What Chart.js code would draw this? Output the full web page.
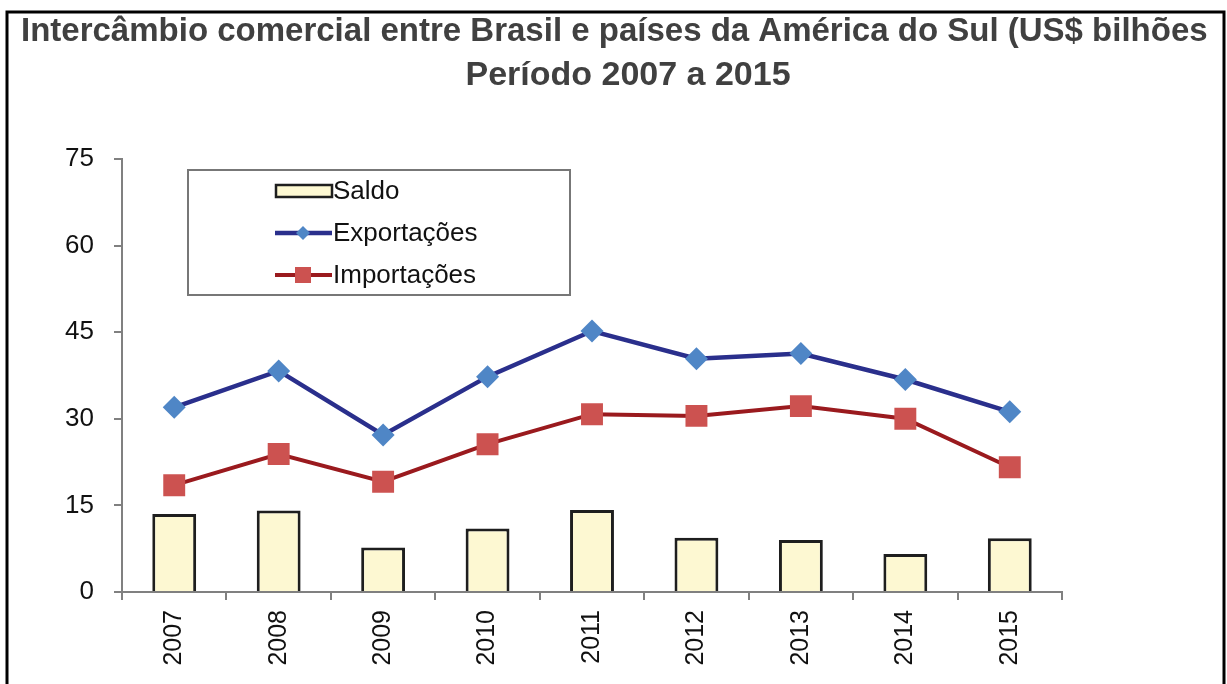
<!DOCTYPE html>
<html>
<head>
<meta charset="utf-8">
<script src="https://cdn.jsdelivr.net/npm/chart.js@4/dist/chart.umd.min.js"></script>
<style>
html,body{margin:0;padding:0;background:#fff;}
canvas{display:block;}
</style>
</head>
<body>
<canvas id="c" width="1227" height="684"></canvas>
<script>
const categories = ['2007', '2008', '2009', '2010', '2011', '2012', '2013', '2014', '2015'];
const saldo = [13.5, 14.1, 7.7, 11.0, 14.2, 9.4, 9.0, 6.6, 9.3];
const exportacoes = [32.0, 38.3, 27.2, 37.3, 45.2, 40.4, 41.3, 36.8, 31.2];
const importacoes = [18.5, 23.9, 19.1, 25.6, 30.8, 30.5, 32.2, 30.0, 21.6];
const yTicks = [0, 15, 30, 45, 60, 75];
const seriesNames = ['Saldo', 'Exportações', 'Importações'];
const titleLines = ['Intercâmbio comercial entre Brasil e países da América do Sul (US$ bilhões', 'Período 2007 a 2015'];

const FONT = "'Liberation Sans', Arial, sans-serif";

const framePlugin = {
  id: 'frameTitle',
  beforeDraw(chart) {
    const ctx = chart.ctx;
    ctx.save();
    ctx.fillStyle = '#fff';
    ctx.fillRect(0, 0, chart.width, chart.height);
    ctx.restore();
  },
  afterDraw(chart) {
    const ctx = chart.ctx;
    ctx.save();
    ctx.fillStyle = '#404040';
    ctx.textBaseline = 'alphabetic';
    ctx.font = "bold 33px " + FONT;
    ctx.textAlign = 'left';
    ctx.fillText(titleLines[0], 21, 41);
    ctx.font = "bold 34px " + FONT;
    ctx.textAlign = 'center';
    ctx.fillText(titleLines[1], 628, 85);
    ctx.strokeStyle = '#000';
    ctx.lineWidth = 3;
    ctx.strokeRect(7, 12, 1217, 700);
    ctx.restore();
  }
};

const legendPlugin = {
  id: 'boxLegend',
  afterDatasetsDraw(chart) {
    const ctx = chart.ctx;
    ctx.save();
    ctx.fillStyle = '#fff';
    ctx.fillRect(188, 170, 382, 125);
    ctx.strokeStyle = '#777';
    ctx.lineWidth = 2;
    ctx.strokeRect(188, 170, 382, 125);
    const rows = [191, 233, 275];
    chart.data.datasets.forEach((ds, i) => {
      const y = rows[i];
      if (ds.type === 'bar') {
        ctx.fillStyle = ds.backgroundColor;
        ctx.fillRect(276, y - 6, 56, 12);
        ctx.strokeStyle = ds.borderColor;
        ctx.lineWidth = 2.5;
        ctx.strokeRect(276, y - 6, 56, 12);
      } else {
        ctx.strokeStyle = ds.borderColor;
        ctx.lineWidth = ds.borderWidth;
        ctx.beginPath();
        ctx.moveTo(275, y);
        ctx.lineTo(332, y);
        ctx.stroke();
        ctx.fillStyle = ds.pointBackgroundColor;
        ctx.beginPath();
        if (ds.pointStyle === 'rectRot') {
          ctx.moveTo(303, y - 7); ctx.lineTo(310, y); ctx.lineTo(303, y + 7); ctx.lineTo(296, y);
        } else {
          ctx.rect(295, y - 8, 16, 16);
        }
        ctx.closePath();
        ctx.fill();
      }
      ctx.fillStyle = '#111';
      ctx.font = "26px " + FONT;
      ctx.textAlign = 'left';
      ctx.textBaseline = 'middle';
      ctx.fillText(ds.label, 333, y + 1);
    });
    ctx.restore();
  }
};

new Chart(document.getElementById('c'), {
  type: 'bar',
  data: {
    labels: categories,
    datasets: [
      {
        type: 'bar',
        label: seriesNames[0],
        data: saldo,
        backgroundColor: '#FDF8D2',
        borderColor: '#1e1e1e',
        borderWidth: 3,
        barPercentage: 0.42,
        categoryPercentage: 1,
        order: 3
      },
      {
        type: 'line',
        label: seriesNames[1],
        data: exportacoes,
        borderColor: '#2A2F8C',
        borderWidth: 4.5,
        tension: 0,
        pointStyle: 'rectRot',
        pointRadius: 11.5,
        pointHoverRadius: 11.5,
        pointBackgroundColor: '#4F86C6',
        pointBorderColor: '#4F86C6',
        pointBorderWidth: 0,
        order: 1
      },
      {
        type: 'line',
        label: seriesNames[2],
        data: importacoes,
        borderColor: '#9A1A1E',
        borderWidth: 4,
        tension: 0,
        pointStyle: 'rect',
        pointRadius: 15.5,
        pointHoverRadius: 15.5,
        pointBackgroundColor: '#CC5250',
        pointBorderColor: '#CC5250',
        pointBorderWidth: 0,
        order: 2
      }
    ]
  },
  options: {
    responsive: false,
    animation: false,
    events: [],
    layout: { padding: { top: 159, right: 165, bottom: 0, left: 0 } },
    plugins: {
      legend: { display: false },
      title: { display: false },
      tooltip: { enabled: false }
    },
    scales: {
      x: {
        offset: true,
        grid: { drawOnChartArea: false, drawTicks: true, tickLength: 8, color: '#808080', lineWidth: 2, offset: true },
        border: { display: true, color: '#808080', width: 2 },
        ticks: {
          minRotation: 90, maxRotation: 90, autoSkip: false, padding: 10,
          color: '#111', font: { family: FONT, size: 25 }
        },
        afterFit(scale) { scale.height = 92; }
      },
      y: {
        min: 0, max: 75,
        afterBuildTicks(scale) { scale.ticks = yTicks.map(v => ({ value: v })); },
        grid: { drawOnChartArea: false, drawTicks: true, tickLength: 8, color: '#808080', lineWidth: 2 },
        border: { display: true, color: '#808080', width: 2 },
        ticks: { padding: 20, color: '#111', font: { family: FONT, size: 26 } },
        afterFit(scale) { scale.width = 122; }
      }
    }
  },
  plugins: [framePlugin, legendPlugin]
});
</script>
</body>
</html>
